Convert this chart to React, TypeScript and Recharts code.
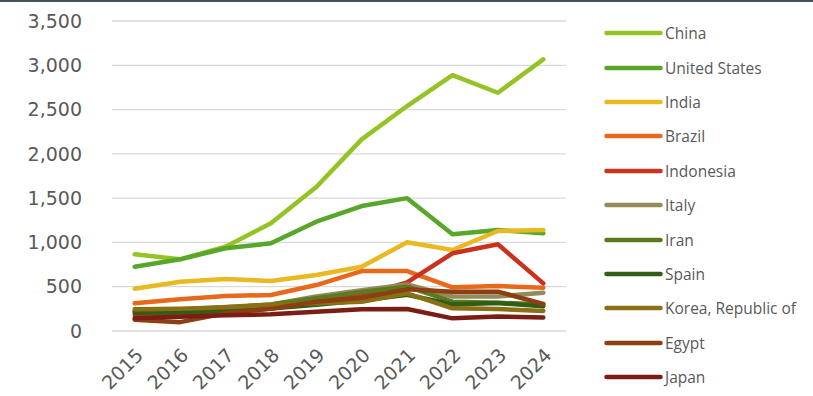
import React from "react";
import { LineChart, Line, XAxis, YAxis, CartesianGrid } from "recharts";

const years = ["2015", "2016", "2017", "2018", "2019", "2020", "2021", "2022", "2023", "2024"];

const china = [866, 809, 952, 1216, 1626, 2164, 2540, 2890, 2690, 3067];
const unitedStates = [726, 809, 934, 990, 1234, 1411, 1500, 1092, 1140, 1103];
const india = [478, 557, 587, 565, 632, 726, 1001, 914, 1129, 1140];
const brazil = [313, 358, 395, 406, 519, 677, 677, 493, 508, 489];
const indonesia = [180, 190, 215, 255, 330, 400, 550, 877, 979, 538];
const italy = [230, 240, 270, 300, 390, 460, 525, 390, 390, 432];
const iran = [220, 235, 260, 300, 370, 440, 500, 331, 320, 300];
const spain = [205, 212, 232, 255, 295, 345, 410, 300, 315, 278];
const korea = [245, 252, 268, 294, 313, 331, 426, 256, 248, 226];
const egypt = [128, 100, 200, 250, 330, 375, 470, 444, 444, 305];
const japan = [143, 161, 177, 188, 218, 245, 248, 143, 165, 152];

const yTicks = [0, 500, 1000, 1500, 2000, 2500, 3000, 3500];

const seriesList = [
  { key: "China", values: china, color: "#94c424" },
  { key: "United States", values: unitedStates, color: "#58a62a" },
  { key: "India", values: india, color: "#e8b923" },
  { key: "Brazil", values: brazil, color: "#e8691c" },
  { key: "Indonesia", values: indonesia, color: "#c8321f" },
  { key: "Italy", values: italy, color: "#948a5c" },
  { key: "Iran", values: iran, color: "#5c7a1e" },
  { key: "Spain", values: spain, color: "#2f5e14" },
  { key: "Korea, Republic of", values: korea, color: "#8a7014" },
  { key: "Egypt", values: egypt, color: "#8b3f12" },
  { key: "Japan", values: japan, color: "#7a1d14" },
];

const rows = years.map((year, i) => {
  const row: Record<string, string | number> = { year };
  seriesList.forEach((s) => {
    row[s.key] = s.values[i];
  });
  return row;
});

const textColor = "#595959";
const fmt = (v: number) => v.toLocaleString("en-US");

const LegendList = () => (
  <div
    style={{
      position: "absolute",
      left: 604,
      top: 16,
      fontFamily: "'Open Sans', sans-serif",
      fontSize: 15.5,
      color: textColor,
    }}
  >
    {seriesList.map((s) => (
      <div key={s.key} style={{ height: 34.4, display: "flex", alignItems: "center" }}>
        <svg width={61} height={6} style={{ display: "block" }}>
          <line x1={2.5} y1={3} x2={56.5} y2={3} stroke={s.color} strokeWidth={4.5} strokeLinecap="round" />
        </svg>
        <span style={{ whiteSpace: "nowrap" }}>{s.key}</span>
      </div>
    ))}
  </div>
);

export default function App() {
  return (
    <div
      style={{
        position: "absolute",
        left: 0,
        top: 0,
        width: 813,
        height: 396,
        background: "#ffffff",
        overflow: "hidden",
      }}
    >
      <div style={{ position: "absolute", left: 0, top: 0, width: 813, height: 2, background: "#44545e" }} />
      <LineChart
        width={813}
        height={396}
        data={rows}
        margin={{ top: 21, right: 247, bottom: 0, left: 0 }}
      >
        <CartesianGrid horizontal vertical={false} stroke="#d9d9d9" strokeWidth={1.3} />
        <XAxis
          dataKey="year"
          axisLine={false}
          tickLine={false}
          interval={0}
          padding={{ left: 22.7, right: 22.7 }}
          height={65}
          tickSize={0}
          tickMargin={16}
          angle={-45}
          textAnchor="end"
          tick={{ fill: textColor, fontSize: 19, fontFamily: "'DejaVu Sans', sans-serif" }}
        />
        <YAxis
          domain={[0, 3500]}
          ticks={yTicks}
          width={112}
          axisLine={false}
          tickLine={false}
          tickSize={0}
          tickMargin={30}
          tickFormatter={fmt}
          tick={{ fill: textColor, fontSize: 19, fontFamily: "'DejaVu Sans', sans-serif" }}
        />
        {seriesList.map((s) => (
          <Line
            key={s.key}
            type="linear"
            dataKey={s.key}
            stroke={s.color}
            strokeWidth={4.5}
            dot={false}
            activeDot={false}
            isAnimationActive={false}
            strokeLinejoin="round"
            strokeLinecap="round"
          />
        ))}
      </LineChart>
      <LegendList />
    </div>
  );
}
